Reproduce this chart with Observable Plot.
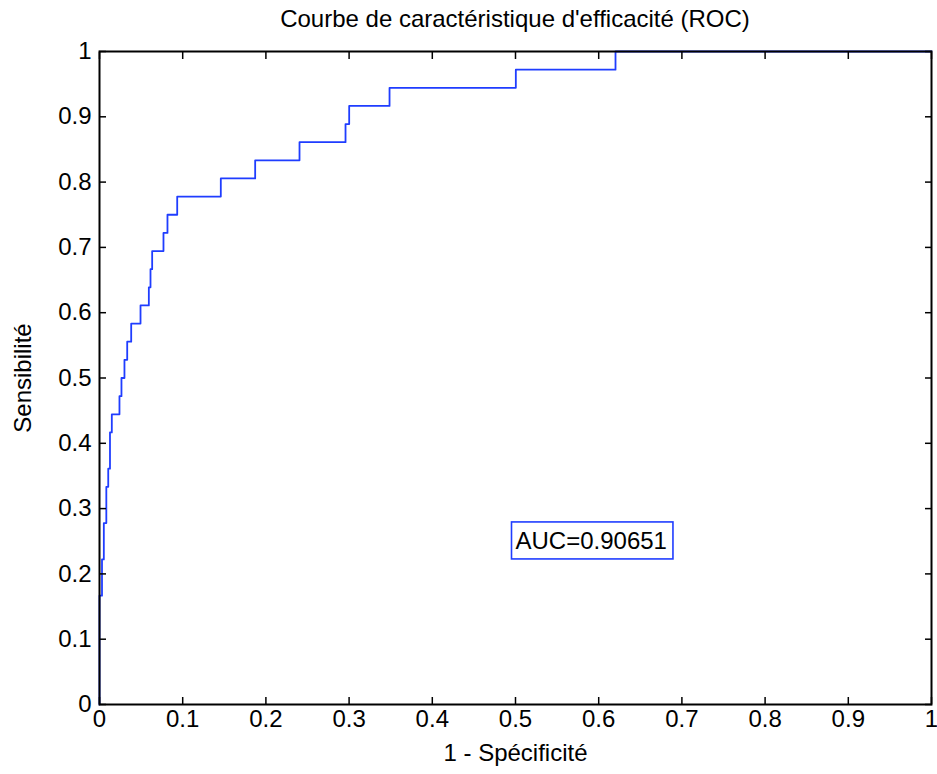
<!DOCTYPE html>
<html>
<head>
<meta charset="utf-8">
<script src="https://cdn.jsdelivr.net/npm/d3@7"></script>
<script src="https://cdn.jsdelivr.net/npm/@observablehq/plot@0.6"></script>
<style>
  html, body { margin: 0; padding: 0; background: #fff; }
  #title {
    font-family: "Liberation Sans", Arial, Helvetica, sans-serif;
    font-size: 24px;
    line-height: 37px;
    height: 37px;
    box-sizing: border-box;
    padding-left: 99px;
    padding-right: 6px;
    text-align: center;
    color: #000;
    white-space: nowrap;
  }
</style>
</head>
<body>
<div id="title">Courbe de caractéristique d'efficacité (ROC)</div>
<div id="chart"></div>
<script>
// ROC curve vertices (1 - specificity, sensitivity)
const fpr = [0, 0, 0.003, 0.0052, 0.0082, 0.0105, 0.0126, 0.0148, 0.024, 0.0264, 0.030, 0.0333, 0.0381, 0.0493, 0.0593, 0.0613, 0.0633, 0.0769, 0.0817, 0.0934, 0.1458, 0.1871, 0.2404, 0.2957, 0.3001, 0.3486, 0.5004, 0.6202, 1];
const tpr = [0, 0.1667, 0.2222, 0.2778, 0.3333, 0.3611, 0.4167, 0.4444, 0.4722, 0.5, 0.5278, 0.5556, 0.5833, 0.6111, 0.6389, 0.6667, 0.6944, 0.7222, 0.75, 0.7778, 0.8056, 0.8333, 0.8611, 0.8889, 0.9167, 0.9444, 0.9722, 1, 1];
const xTicks = [0, 0.1, 0.2, 0.3, 0.4, 0.5, 0.6, 0.7, 0.8, 0.9, 1];
const yTicks = [0, 0.1, 0.2, 0.3, 0.4, 0.5, 0.6, 0.7, 0.8, 0.9, 1];
const aucLabel = ["AUC=0.90651"];
const aucPos = {x: 0.5, y: 0.25};
const xLabel = "1 - Spécificité";
const yLabel = "Sensibilité";

const roc = fpr.map((f, i) => ({fpr: f, tpr: tpr[i]}));
const fmt = d => String(d);
const font = "Liberation Sans, Arial, Helvetica, sans-serif";

const chart = Plot.plot({
  width: 937,
  height: 737,
  marginLeft: 99,
  marginRight: 6,
  marginTop: 14,
  marginBottom: 70,
  style: {fontFamily: font, fontSize: "24px", background: "#fff", color: "#000", overflow: "visible"},
  x: {domain: [0, 1]},
  y: {domain: [0, 1]},
  marks: [
    Plot.line(roc, {x: "fpr", y: "tpr", curve: "step-after", stroke: "#1f3dff", strokeWidth: 1.8}),
    Plot.text(aucLabel, {x: () => aucPos.x, y: () => aucPos.y, text: d => d, textAnchor: "start", lineAnchor: "middle", fill: "#000", fontSize: 24, className: "auc-label"}),
    Plot.axisX({anchor: "bottom", ticks: xTicks, tickFormat: fmt, tickSize: -7, tickPadding: 12, strokeWidth: 1.5, label: xLabel, labelAnchor: "center", labelOffset: 56, labelArrow: "none"}),
    Plot.axisX({anchor: "top", ticks: xTicks, tickFormat: () => "", tickSize: -7, strokeWidth: 1.5, label: null}),
    Plot.axisY({anchor: "left", ticks: yTicks, tickFormat: fmt, tickSize: -7, tickPadding: 15, strokeWidth: 1.5, label: yLabel, labelAnchor: "center", labelOffset: 86, labelArrow: "none"}),
    Plot.axisY({anchor: "right", ticks: yTicks, tickFormat: () => "", tickSize: -7, strokeWidth: 1.5, label: null}),
    Plot.frame({stroke: "#000", strokeWidth: 2})
  ]
});
document.getElementById("chart").appendChild(chart);

// Blue box around the AUC annotation (sized from the rendered text)
const g = chart.querySelector("g.auc-label") || chart.querySelector(".auc-label");
if (g) {
  const t = g.querySelector("text") || g;
  const b = t.getBBox();
  const rect = document.createElementNS("http://www.w3.org/2000/svg", "rect");
  rect.setAttribute("x", b.x - 4);
  rect.setAttribute("y", b.y - 5);
  rect.setAttribute("width", b.width + 10);
  rect.setAttribute("height", b.height + 10);
  rect.setAttribute("fill", "none");
  rect.setAttribute("stroke", "#1f3dff");
  rect.setAttribute("stroke-width", 1.6);
  const tr = t.getAttribute("transform");
  if (tr) rect.setAttribute("transform", tr);
  t.parentNode.insertBefore(rect, t);
}
</script>
</body>
</html>
